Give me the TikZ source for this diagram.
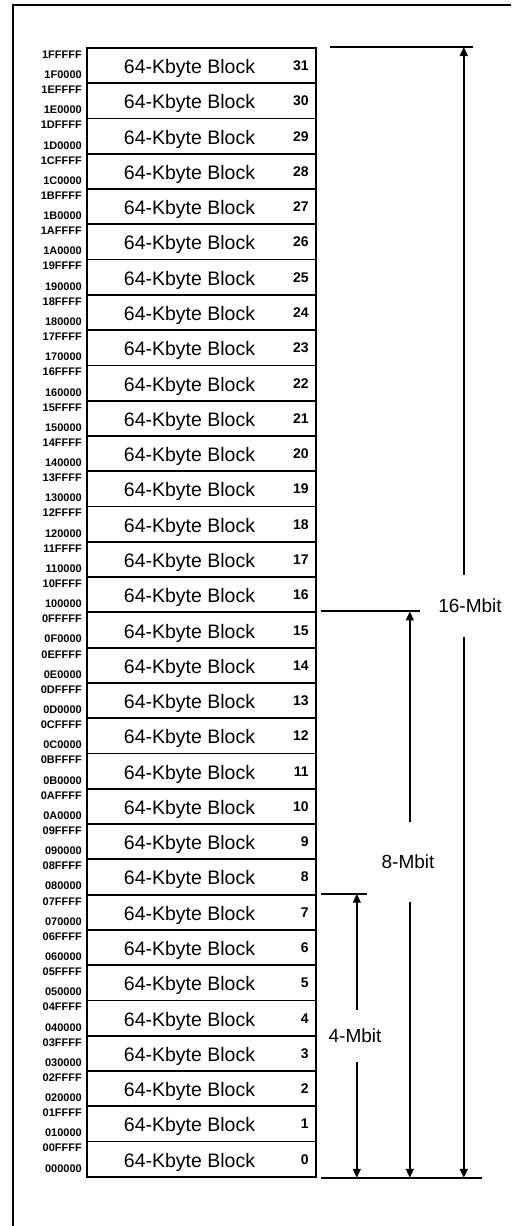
\documentclass[tikz,border=0pt]{standalone}
\usepackage{fontspec}
\setmainfont{Liberation Sans}
\usetikzlibrary{arrows.meta}

\begin{document}
\begin{tikzpicture}[x=1pt,y=-1pt,
		blk/.style={draw,line width=1.8pt,minimum width=229pt,minimum height=35.28pt,inner sep=0pt,anchor=north west},
		blktext/.style={font=\fontsize{19.5}{19.5}\selectfont,anchor=base,inner sep=0pt},
		num/.style={font=\bfseries\fontsize{14}{14}\selectfont,anchor=base east,inner sep=0pt},
		addr/.style={font=\bfseries\fontsize{11}{11}\selectfont,anchor=base east,inner sep=0pt},
		ext/.style={line width=2pt},
		dim/.style={line width=#1,-{Triangle[width=8pt,length=9pt]}},
		mbit/.style={font=\fontsize{19}{19}\selectfont,inner sep=0pt,text depth=0pt}]
		%%%%% START %%%%%
		
		\useasboundingbox (0,0) rectangle (512,1226);
		\draw[line width=2pt] (511,5) -- (12.5,5) -- (12.5,1226);
		
		% blocks and addresses
		\foreach \i/\h in {0/00,1/01,2/02,3/03,4/04,5/05,6/06,7/07,8/08,9/09,10/0A,11/0B,12/0C,13/0D,14/0E,15/0F,
			16/10,17/11,18/12,19/13,20/14,21/15,22/16,23/17,24/18,25/19,26/1A,27/1B,28/1C,29/1D,30/1E,31/1F}{
			\node[blk] (b\i) at (86,{47+(31-\i)*35.28}) {};
			\node[blktext] at ([xshift=103.5pt,yshift=-8pt]b\i.west) {64-Kbyte Block};
			\node[num] at ([xshift=-8pt,yshift=-5pt]b\i.east) {\i};
			\node[addr] at ([xshift=-4pt,yshift=-11.3pt]b\i.north west) {\h FFFF};
			\node[addr] at ([xshift=-4pt,yshift=5.6pt]b\i.south west) {\h 0000};
		}
		
		% extension lines
		\coordinate (t16) at ([xshift=147pt]b31.north east);
		\coordinate (t8) at ([xshift=93pt]b15.north east);
		\coordinate (t4) at ([xshift=40pt]b7.north east);
		\coordinate (bot) at ([xshift=147pt]b0.south east);
		\draw[ext] (b31.north east) ++(13,0) -- ++(143,0);
		\draw[ext] (b15.north east) ++(4,0) -- ++(99,0);
		\draw[ext] (b7.north east) ++(4,0) -- ++(46,0);
		\draw[ext] (b0.south east) ++(4,0) -- ++(161,0);
		
		% sizes
		\node[mbit,minimum height=62pt] (m16) at (470,606) {16-Mbit};
		\node[mbit,minimum height=79pt] (m8) at (408,862) {8-Mbit};
		\node[mbit,minimum height=51pt] (m4) at (355,1036) {4-Mbit};
		
		\draw[dim=1.8pt] (m16.north -| t16) -- (t16);
		\draw[dim=1.8pt] (m16.south -| t16) -- (bot);
		\draw[dim=1.4pt] (m8.north -| t8) -- (t8);
		\draw[dim=1.4pt] (m8.south -| t8) -- (t8 |- bot);
		\draw[dim=1.4pt] (m4.north -| t4) -- (t4);
		\draw[dim=1.4pt] (m4.south -| t4) -- (t4 |- bot);
		
		%%%%% END %%%%%
	\end{tikzpicture}
\end{document}
